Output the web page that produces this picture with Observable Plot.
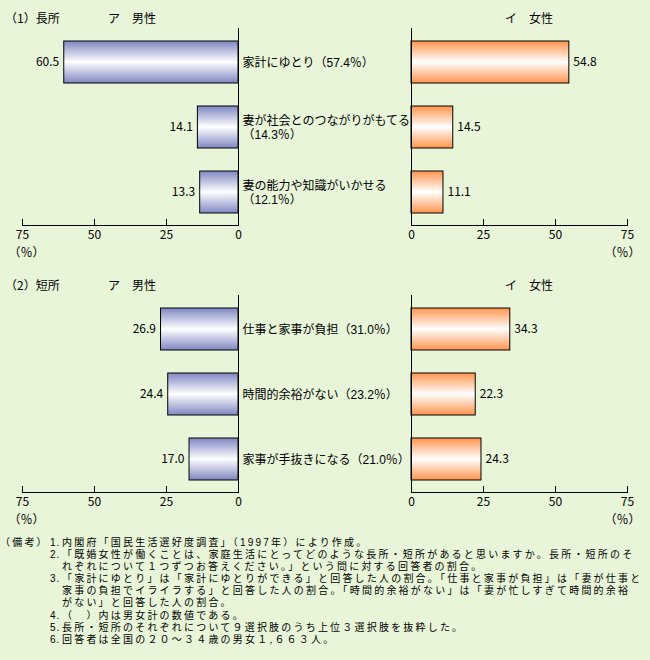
<!DOCTYPE html>
<html>
<head>
<meta charset="utf-8">
<script src="https://cdn.jsdelivr.net/npm/d3@7"></script>
<script src="https://cdn.jsdelivr.net/npm/@observablehq/plot@0.6"></script>
<style>
  html, body { margin: 0; padding: 0; background: #E8F5D8; }
  #wrap { position: relative; width: 650px; height: 660px; background: #E8F5D8; overflow: hidden;
          font-family: "Noto Sans CJK JP", "Noto Sans", sans-serif; font-size: 12px; color: #000; }
  .abs { position: absolute; white-space: pre; line-height: 14px; }
  .note { position: absolute; white-space: pre; font-family: "Liberation Sans", "Noto Sans CJK JP", sans-serif;
          font-size: 10px; line-height: 10px; height: 10px; letter-spacing: 2.2px; }
  .num { letter-spacing: 1px; }
  #wrap svg { position: absolute; }
</style>
</head>
<body>
<div id="wrap"></div>
<script>
// ---- data ----
const sectionTitles = ["（1）長所", "（2）短所"];
const maleTitle = "ア　男性";
const femaleTitle = "イ　女性";
const meritCats = ["家計にゆとり（57.4％）", "妻が社会とのつながりがもてる\n（14.3％）", "妻の能力や知識がいかせる\n（12.1％）"];
const meritMale = [60.5, 14.1, 13.3];
const meritFemale = [54.8, 14.5, 11.1];
const demeritCats = ["仕事と家事が負担（31.0％）", "時間的余裕がない（23.2％）", "家事が手抜きになる（21.0％）"];
const demeritMale = [26.9, 24.4, 17.0];
const demeritFemale = [34.3, 22.3, 24.3];
const tickValues = [0, 25, 50, 75];
const unitLabel = "（％）";
const noteHead = "（備考）";
const noteNums = ["1.", "2.", "", "3.", "", "", "4.", "5.", "6."];
const noteLines = [
  "内閣府「国民生活選好度調査」（1997年）により作成。",
  "「既婚女性が働くことは、家庭生活にとってどのような長所・短所があると思いますか。長所・短所のそ",
  "れぞれについて１つずつお答えください。」という問に対する回答者の割合。",
  "「家計にゆとり」は「家計にゆとりができる」と回答した人の割合。「仕事と家事が負担」は「妻が仕事と",
  "家事の負担でイライラする」と回答した人の割合。「時間的余裕がない」は「妻が忙しすぎて時間的余裕",
  "がない」と回答した人の割合。",
  "（　）内は男女計の数値である。",
  "長所・短所のそれぞれについて９選択肢のうち上位３選択肢を抜粋した。",
  "回答者は全国の２０～３４歳の男女１,６６３人。"
];

const FONT = '"Noto Sans CJK JP", "Noto Sans", sans-serif';
const TIGHT = '"Liberation Sans", "Noto Sans CJK JP", sans-serif';
const wrap = document.getElementById("wrap");

// gradient definitions
const defs = document.createElementNS("http://www.w3.org/2000/svg", "svg");
defs.setAttribute("width", 0); defs.setAttribute("height", 0);
defs.style.position = "absolute";
defs.innerHTML = `<defs>
  <linearGradient id="gradM" x1="0" y1="0" x2="0" y2="1">
    <stop offset="0" stop-color="#7F87C2"/>
    <stop offset="0.5" stop-color="#FFFFFF"/>
    <stop offset="1" stop-color="#7F87C2"/>
  </linearGradient>
  <linearGradient id="gradF" x1="0" y1="0" x2="0" y2="1">
    <stop offset="0" stop-color="#FF944D"/>
    <stop offset="0.5" stop-color="#FFFFFF"/>
    <stop offset="1" stop-color="#FF944D"/>
  </linearGradient></defs>`;
wrap.appendChild(defs);

const style = {background: "transparent", fontFamily: FONT, fontSize: "12px", color: "#000", overflow: "visible"};

function panel(cats, values, male) {
  const data = cats.map((c, i) => ({cat: c, v: values[i]}));
  return Plot.plot({
    width: male ? 411 : 270,
    height: 260,
    marginLeft: male ? 22 : 31,
    marginRight: male ? 173 : 23,
    marginTop: 28,
    marginBottom: 35,
    style,
    x: {domain: [0, 75], reverse: male},
    y: {domain: cats, paddingInner: 0.359, paddingOuter: 0.18, axis: null},
    marks: [
      Plot.barX(data, {x1: 0, x2: "v", y: "cat", fill: male ? "url(#gradM)" : "url(#gradF)", stroke: "#000", strokeWidth: 1}),
      Plot.ruleX([0], {stroke: "#000", strokeWidth: 1}),
      Plot.frame({anchor: "bottom", stroke: "#000", strokeWidth: 1}),
      Plot.tickX(tickValues, {x: d => d, insetTop: 191, stroke: "#000", strokeWidth: 1}),
      Plot.axisX({ticks: tickValues, tickSize: 0, tickPadding: 5, tickFormat: d => String(d), label: null, fontSize: 12}),
      Plot.text(data, {x: "v", y: "cat", text: d => d.v.toFixed(1), textAnchor: male ? "end" : "start", dx: male ? -5 : 4, fontSize: 12}),
      ...(male ? [Plot.text(data, {x: 0, y: "cat", text: "cat", textAnchor: "start", dx: 4, lineHeight: 1.15, fontSize: 12, fontFamily: TIGHT})] : []),
      Plot.text([unitLabel], {x: 75, frameAnchor: "bottom", dy: 31, text: d => d, textAnchor: male ? "start" : "end", dx: male ? -14 : 13, fontSize: 12})
    ]
  });
}

function place(el, left, top) {
  el.style.left = left + "px";
  el.style.top = top + "px";
  wrap.appendChild(el);
}

function label(text, left, cy, cls = "abs", lh = 14) {
  const d = document.createElement("div");
  d.className = cls;
  d.textContent = text;
  d.style.left = left + "px";
  d.style.top = (cy - lh / 2) + "px";
  wrap.appendChild(d);
}

const rows = [
  {cats: meritCats, m: meritMale, f: meritFemale, top: 0},
  {cats: demeritCats, m: demeritMale, f: demeritFemale, top: 267}
];
rows.forEach((r, i) => {
  place(panel(r.cats, r.m, true), 0, r.top);
  place(panel(r.cats, r.f, false), 380, r.top);
  label(sectionTitles[i], 5, 18 + r.top);
  label(maleTitle, 108, 18 + r.top);
  label(femaleTitle, 505, 18 + r.top);
});

// notes
const noteY = [543, 555, 567, 579, 591, 603, 616, 628, 640];
label(noteHead, 0, noteY[0], "note", 10);
noteLines.forEach((t, i) => {
  if (noteNums[i]) label(noteNums[i], 50, noteY[i], "note num", 10);
  label(t, 62, noteY[i], "note", 10);
});
</script>
</body>
</html>
